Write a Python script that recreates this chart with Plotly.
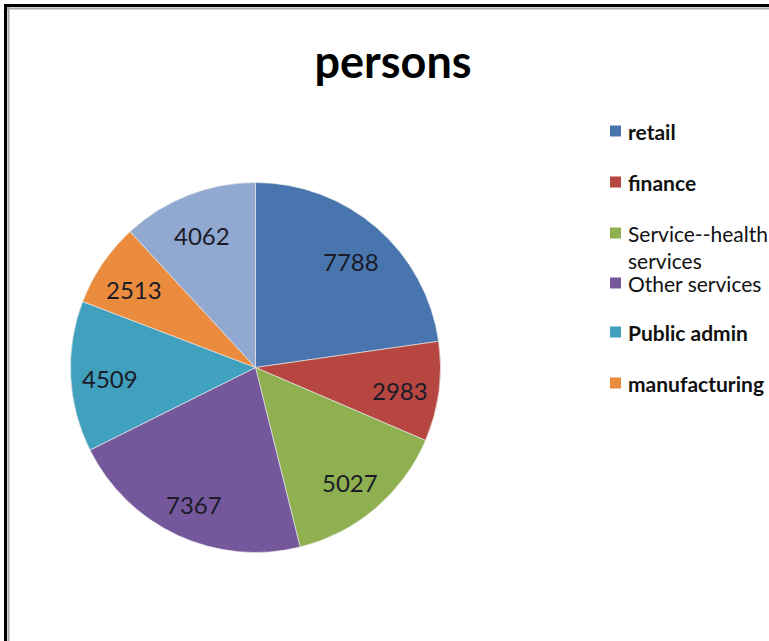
import math
import plotly.graph_objects as go

categories = ["retail", "finance", "Service--health services", "Other services",
              "Public admin", "manufacturing", ""]
values = [7788, 2983, 5027, 7367, 4509, 2513, 4062]
legend_labels = ["retail", "finance", "Service--health<br>services", "Other services",
                 "Public admin", "manufacturing"]
legend_bold = [True, True, False, False, True, True]
colors = ["#4875AD", "#B6463F", "#8FB050", "#75589C", "#40A0BD", "#EA8B3E", "#91A8D1"]
title_text = "persons"

W, H = 769, 641
CX, CY, R = 255.5, 367.5, 185.0

def px(x):
    return x / W

def py(y):
    return 1 - y / H

fig = go.Figure()
fig.add_trace(go.Pie(
    labels=categories, values=values, sort=False, direction="clockwise", rotation=0,
    marker=dict(colors=colors, line=dict(color="rgba(235,235,235,0.8)", width=0.8)),
    textinfo="none", showlegend=False,
    domain=dict(x=[px(CX - R), px(CX + R)], y=[py(CY + R), py(CY - R)]),
))

annotations = []
total = sum(values)
cum = 0
for v in values:
    mid = (cum + v / 2) / total * 2 * math.pi
    cum += v
    r = 0.79 * R
    x = CX + r * math.sin(mid)
    y = CY - r * math.cos(mid) + 4
    annotations.append(dict(x=px(x), y=py(y), xref="paper", yref="paper", text=str(v),
                            showarrow=False, font=dict(family="Lato", size=24, color="#1b1b28"),
                            xanchor="center", yanchor="middle"))

shapes = []
row_y = [131, 182, 233, 283, 332, 383]
for lab, bold, col, yy in zip(legend_labels, legend_bold, colors, row_y):
    shapes.append(dict(type="rect", xref="paper", yref="paper",
                       x0=px(610), x1=px(621), y0=py(yy + 5.5), y1=py(yy - 5.5),
                       fillcolor=col, line=dict(width=0)))
    txt = f"<b>{lab}</b>" if bold else lab
    annotations.append(dict(x=px(626), y=py(yy - 14), xref="paper", yref="paper", text=txt,
                            showarrow=False, align="left", xanchor="left", yanchor="top",
                            font=dict(family="Lato", size=21, color="#111111")))

# border of the chart area
shapes.append(dict(type="line", xref="paper", yref="paper", x0=px(4), x1=1.0, y0=py(5.5), y1=py(5.5),
                   line=dict(color="#000000", width=3)))
shapes.append(dict(type="line", xref="paper", yref="paper", x0=px(5.5), x1=px(5.5), y0=0, y1=py(4),
                   line=dict(color="#000000", width=3)))
shapes.append(dict(type="line", xref="paper", yref="paper", x0=px(7), x1=1.0, y0=py(8.5), y1=py(8.5),
                   line=dict(color="#a8a8a8", width=2)))
shapes.append(dict(type="line", xref="paper", yref="paper", x0=px(8.5), x1=px(8.5), y0=0, y1=py(7),
                   line=dict(color="#a8a8a8", width=2)))

fig.update_layout(
    width=W, height=H, margin=dict(l=0, r=0, t=0, b=0),
    paper_bgcolor="white", plot_bgcolor="white",
    title=dict(text=f"<b>{title_text}</b>", x=px(393), y=py(62), xanchor="center", yanchor="middle",
               font=dict(family="Lato", size=45, color="#000000")),
    annotations=annotations, shapes=shapes,
)

fig.write_html("out.html")
